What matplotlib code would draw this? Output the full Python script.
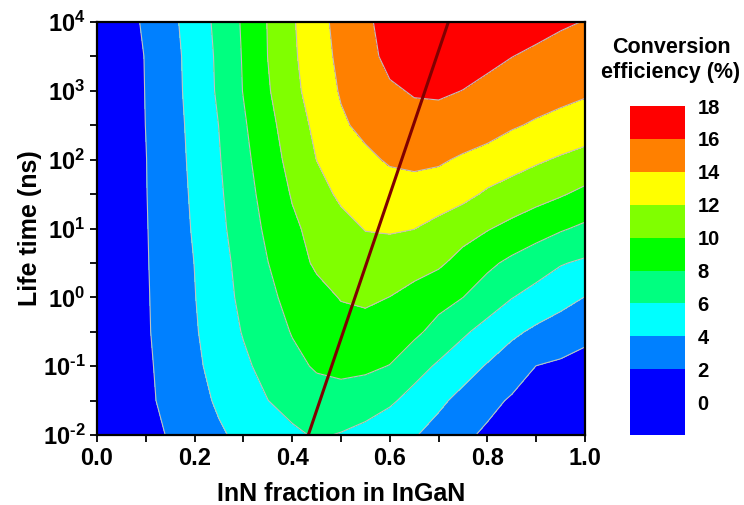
import numpy as np
import matplotlib
matplotlib.use("Agg")
import matplotlib.pyplot as plt
from matplotlib.ticker import MultipleLocator, FuncFormatter

plt.rcParams['font.family'] = ['Liberation Sans', 'DejaVu Sans']
plt.rcParams['font.weight'] = 'bold'
plt.rcParams['mathtext.fontset'] = 'custom'
plt.rcParams['mathtext.rm'] = 'Liberation Sans:bold'
plt.rcParams['mathtext.bf'] = 'Liberation Sans:bold'
plt.rcParams['mathtext.default'] = 'rm'

# InN fraction grid and log10(lifetime / ns) grid
inn_fraction = [0.00, 0.05, 0.10, 0.15, 0.20, 0.25, 0.30, 0.35, 0.40, 0.45, 0.50,
                0.55, 0.60, 0.65, 0.70, 0.75, 0.80, 0.85, 0.90, 0.95, 1.00]
log_lifetime = [-2.0, -1.5, -1.0, -0.5, 0.0, 0.5, 1.0, 1.5, 2.0, 2.5, 3.0, 3.5, 4.0]

# conversion efficiency (%), one row per lifetime
eff_m20 = [0, 0.71, 1.42, 2.15, 2.96, 3.77, 4.43, 5.04, 5.64, 6.20, 5.88, 5.30, 4.72, 4.14, 3.28, 2.34, 1.70, 1.30, 1.00, 0.80, 0.60]
eff_m15 = [0, 0.82, 1.64, 2.50, 3.38, 4.26, 5.12, 5.98, 6.70, 7.20, 7.35, 7.10, 6.30, 5.32, 4.38, 3.43, 2.49, 1.80, 1.50, 1.20, 1.00]
eff_m10 = [0, 0.85, 1.71, 2.63, 3.67, 4.60, 5.65, 6.61, 7.52, 8.20, 8.40, 8.30, 7.95, 6.75, 5.74, 4.79, 3.85, 2.91, 1.98, 1.72, 1.46]
eff_m05 = [0, 0.90, 1.80, 2.80, 3.82, 4.96, 6.12, 7.11, 8.10, 8.80, 9.25, 9.35, 9.00, 8.40, 7.35, 6.29, 5.32, 4.38, 3.64, 3.03, 2.43]
eff_p00 = [0, 0.92, 1.83, 2.87, 3.94, 5.21, 6.44, 7.60, 8.55, 9.37, 10.10, 10.30, 9.98, 9.31, 8.66, 8.01, 7.04, 6.06, 5.36, 4.68, 3.96]
eff_p05 = [0, 0.93, 1.87, 2.93, 4.03, 5.34, 6.66, 7.97, 9.15, 10.30, 10.90, 11.10, 11.00, 10.80, 10.30, 9.32, 8.40, 7.59, 6.86, 6.13, 5.71]
eff_p10 = [0, 0.95, 1.90, 3.02, 4.19, 5.56, 6.97, 8.36, 9.66, 10.59, 11.38, 12.08, 12.20, 12.03, 11.42, 10.77, 10.12, 9.48, 8.84, 8.20, 7.65]
eff_p15 = [0, 0.97, 1.94, 3.09, 4.31, 5.72, 7.23, 8.72, 10.14, 11.27, 12.35, 12.90, 13.20, 13.25, 13.00, 12.50, 11.74, 11.21, 10.69, 10.17, 9.55]
eff_p20 = [0, 0.98, 1.96, 3.16, 4.43, 5.88, 7.48, 9.10, 10.61, 12.02, 12.81, 13.63, 14.20, 14.40, 14.25, 13.74, 13.24, 12.75, 12.25, 11.79, 11.37]
eff_p25 = [0, 1.00, 2.02, 3.22, 4.54, 6.03, 7.76, 9.43, 11.00, 12.44, 13.74, 14.45, 15.00, 15.40, 15.45, 15.20, 14.85, 14.20, 13.76, 13.38, 12.99]
eff_p30 = [0, 1.02, 2.05, 3.30, 4.69, 6.29, 8.07, 9.82, 11.45, 12.92, 14.16, 14.90, 15.75, 16.15, 16.20, 15.98, 15.70, 15.30, 14.95, 14.60, 14.28]
eff_p35 = [0, 1.03, 2.08, 3.34, 4.75, 6.36, 8.15, 10.02, 11.67, 13.18, 14.42, 15.38, 16.50, 16.60, 16.80, 16.60, 16.30, 16.02, 15.73, 15.43, 15.14]
eff_p40 = [0, 1.14, 2.29, 3.51, 4.92, 6.52, 8.25, 10.07, 11.79, 13.33, 14.62, 15.71, 16.60, 16.80, 17.00, 17.00, 16.90, 16.70, 16.50, 16.20, 15.95]

# optimum-composition ridge (InN fraction vs log10 lifetime)
ridge_fraction = [0.433, 0.720]
ridge_log_lifetime = [-2.0, 4.0]

levels = [-2, 2, 4, 6, 8, 10, 12, 14, 16, 18]
line_levels = [2, 4, 6, 8, 10, 12, 14, 16]
band_colors = ['#0000ff', '#0080ff', '#00ffff', '#00ff80', '#00ff00',
               '#80ff00', '#ffff00', '#ff8000', '#ff0000']
cbar_ticks = [0, 2, 4, 6, 8, 10, 12, 14, 16, 18]

efficiency = np.array([eff_m20, eff_m15, eff_m10, eff_m05, eff_p00, eff_p05, eff_p10,
                       eff_p15, eff_p20, eff_p25, eff_p30, eff_p35, eff_p40])

fig = plt.figure(figsize=(7.44, 5.05), dpi=100)
ax = fig.add_axes([97 / 744, 1 - 435 / 505, 488 / 744, 413 / 505])

cs = ax.contourf(inn_fraction, log_lifetime, efficiency, levels=levels, colors=band_colors)
ax.contour(inn_fraction, log_lifetime, efficiency, levels=line_levels,
           colors='#c0c0c0', linewidths=0.8)
ax.plot(ridge_fraction, ridge_log_lifetime, color='#800000', lw=2.2)

ax.set_xlim(0, 1)
ax.set_ylim(-2, 4)
ax.xaxis.set_major_locator(MultipleLocator(0.2))
ax.xaxis.set_minor_locator(MultipleLocator(0.1))
ax.yaxis.set_major_locator(MultipleLocator(1))
ax.yaxis.set_minor_locator(MultipleLocator(0.5))
ax.xaxis.set_major_formatter(FuncFormatter(lambda v, p: f'{v:.1f}'))
ax.yaxis.set_major_formatter(FuncFormatter(lambda v, p: rf'$10^{{\text{{{int(round(v))}}}}}$'))
ax.tick_params(which='both', direction='out', length=5, width=1.3, top=False, right=False,
               labelsize=17)
for s in ax.spines.values():
    s.set_linewidth(1.6)

ax.set_xlabel('InN fraction in InGaN', fontsize=18, fontweight='bold')
ax.set_ylabel('Life time (ns)', fontsize=18, fontweight='bold')
ax.xaxis.set_label_coords(0.5, -0.115)
ax.yaxis.set_label_coords(-0.112, 0.5)

cax = fig.add_axes([630 / 744, 1 - 435 / 505, 55 / 744, 329 / 505])
cb = fig.colorbar(cs, cax=cax, ticks=cbar_ticks, spacing='proportional')
cb.outline.set_visible(False)
cax.tick_params(length=0, pad=9, labelsize=14.5)
for lab in cax.get_yticklabels():
    lab.set_fontweight('bold')

fig.text(671 / 744, 1 - 60 / 505, 'Conversion\nefficiency (%)', ha='center', va='center',
         fontsize=15.5, fontweight='bold', linespacing=1.2)

fig.savefig('out.png', dpi=100)
